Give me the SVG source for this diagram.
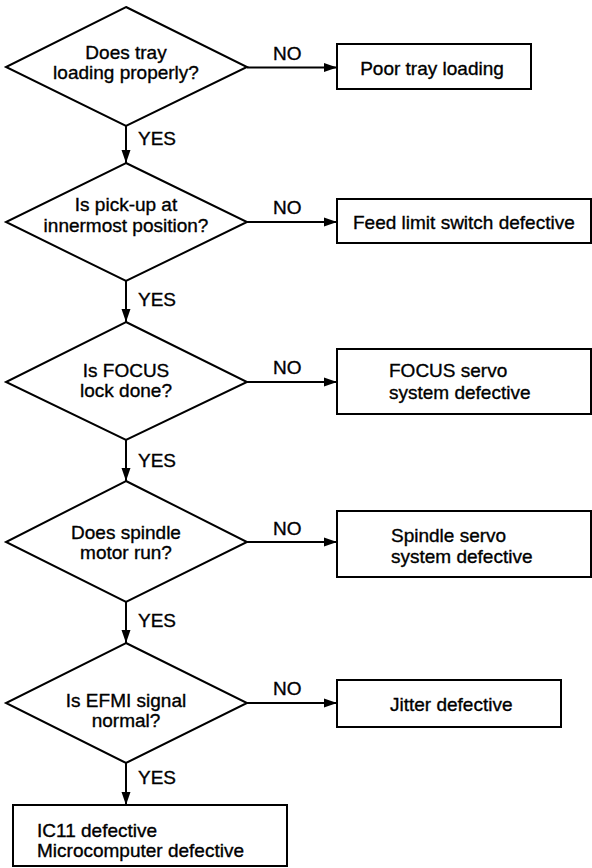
<svg xmlns="http://www.w3.org/2000/svg" width="592" height="868" viewBox="0 0 592 868">
<style>
.shape{fill:#fff;stroke:#000;stroke-width:2}
.line{fill:none;stroke:#000;stroke-width:2}
text{font-family:"Liberation Sans",Arial,sans-serif;font-size:19px;fill:#000;stroke:#000;stroke-width:0.35}
.c{text-anchor:middle}
</style>
<defs>
<marker id="ah" markerUnits="userSpaceOnUse" markerWidth="14" markerHeight="10" refX="13" refY="5" orient="auto">
<path d="M0,0.5 L13,5 L0,9.5 Z" fill="#000"/>
</marker>
</defs>
<rect width="592" height="868" fill="#fff"/>
<g id="connectors">
<line class="line" x1="247" y1="67.5" x2="337" y2="67.5" marker-end="url(#ah)"/>
<line class="line" x1="247" y1="222" x2="337" y2="222" marker-end="url(#ah)"/>
<line class="line" x1="247" y1="382" x2="337" y2="382" marker-end="url(#ah)"/>
<line class="line" x1="247" y1="542" x2="337" y2="542" marker-end="url(#ah)"/>
<line class="line" x1="247" y1="703" x2="337" y2="703" marker-end="url(#ah)"/>
<line class="line" x1="126" y1="126" x2="126" y2="163" marker-end="url(#ah)"/>
<line class="line" x1="126" y1="281" x2="126" y2="322" marker-end="url(#ah)"/>
<line class="line" x1="126" y1="440" x2="126" y2="481" marker-end="url(#ah)"/>
<line class="line" x1="126" y1="602" x2="126" y2="643" marker-end="url(#ah)"/>
<line class="line" x1="126" y1="763" x2="126" y2="805" marker-end="url(#ah)"/>
<text x="273" y="60">NO</text>
<text x="273" y="214">NO</text>
<text x="273" y="374">NO</text>
<text x="273" y="535">NO</text>
<text x="273" y="695">NO</text>
<text x="138" y="145">YES</text>
<text x="138" y="306">YES</text>
<text x="138" y="467">YES</text>
<text x="138" y="627">YES</text>
<text x="138" y="784">YES</text>
</g>
<g id="q1">
<polygon class="shape" points="126,7 247,67 126,126 6,67"/>
<text class="c" x="126" y="59">Does tray</text>
<text class="c" x="126" y="79">loading properly?</text>
</g>
<g id="r1">
<rect class="shape" x="337" y="44" width="194" height="45"/>
<text class="c" x="432" y="75">Poor tray loading</text>
</g>
<g id="q2">
<polygon class="shape" points="126,163 247,222 126,281 6,222"/>
<text class="c" x="126" y="211">Is pick-up at</text>
<text class="c" x="126" y="232">innermost position?</text>
</g>
<g id="r2">
<rect class="shape" x="337" y="199" width="254" height="44"/>
<text x="353" y="229">Feed limit switch defective</text>
</g>
<g id="q3">
<polygon class="shape" points="126,322 247,382 126,440 6,382"/>
<text class="c" x="126" y="377">Is FOCUS</text>
<text class="c" x="126" y="397">lock done?</text>
</g>
<g id="r3">
<rect class="shape" x="337" y="349" width="254" height="65"/>
<text x="389" y="377">FOCUS servo</text>
<text x="389" y="399">system defective</text>
</g>
<g id="q4">
<polygon class="shape" points="126,481 247,542 126,602 6,542"/>
<text class="c" x="126" y="539">Does spindle</text>
<text class="c" x="126" y="559">motor run?</text>
</g>
<g id="r4">
<rect class="shape" x="337" y="511" width="254" height="66"/>
<text x="391" y="542">Spindle servo</text>
<text x="391" y="563">system defective</text>
</g>
<g id="q5">
<polygon class="shape" points="126,643 247,703 126,763 6,703"/>
<text class="c" x="126" y="707">Is EFMI signal</text>
<text class="c" x="126" y="727">normal?</text>
</g>
<g id="r5">
<rect class="shape" x="337" y="680" width="224" height="47"/>
<text x="390" y="711">Jitter defective</text>
</g>
<g id="r6">
<rect class="shape" x="13" y="805" width="274" height="61"/>
<text x="37" y="837">IC11 defective</text>
<text x="37" y="857">Microcomputer defective</text>
</g>
</svg>
